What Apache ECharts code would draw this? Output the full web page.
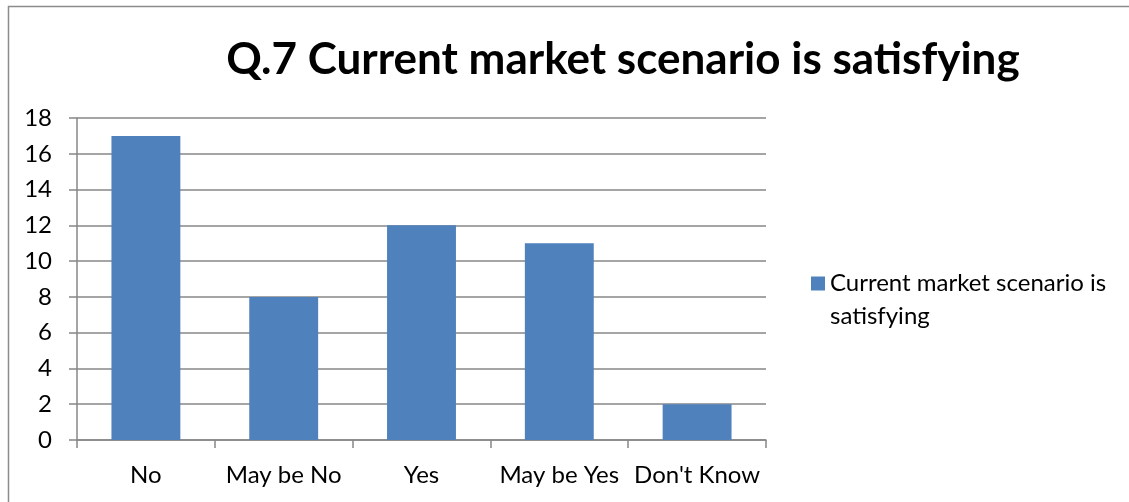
<!DOCTYPE html>
<html>
<head>
<meta charset="utf-8">
<style>
  html, body { margin: 0; padding: 0; background: #fff; }
  #chart { width: 1129px; height: 502px; }
</style>
<script src="https://cdn.jsdelivr.net/npm/echarts@6/dist/echarts.min.js"></script>
</head>
<body>
<div id="chart"></div>
<script>
// Survey answers for question 7
const categories = ['No', 'May be No', 'Yes', 'May be Yes', "Don't Know"];
const responses = [17, 8, 12, 11, 2];
const yTicks = [0, 2, 4, 6, 8, 10, 12, 14, 16, 18];

const seriesName = 'Current market scenario is satisfying';
const titleText = 'Q.7 Current market scenario is satisfying';

const FONT = 'Lato, "Open Sans", sans-serif';
const GRID_COLOR = '#878787';
const LABEL_SIZE = 24;

// Legend marker: a square sitting beside the first text line
// (an empty point below it stretches the box over both lines).
const LEGEND_ICON = 'path://M0,0 L14,0 L14,14 L0,14 Z M0,47 L0.01,47 Z';

const chart = echarts.init(document.getElementById('chart'), null, { renderer: 'canvas' });

chart.setOption({
  animation: false,
  backgroundColor: '#ffffff',
  graphic: [{
    type: 'rect',
    shape: { x: 8.5, y: 6.5, width: 1140, height: 520 },
    style: { fill: 'none', stroke: '#8c8c8c', lineWidth: 1.5 },
    silent: true
  }],
  title: {
    text: titleText,
    left: 618,
    textAlign: 'center',
    top: 33,
    textStyle: { fontFamily: FONT, fontWeight: 'bold', fontSize: 44, color: '#000' }
  },
  legend: {
    left: 806,
    top: 262,
    orient: 'vertical',
    icon: LEGEND_ICON,
    itemWidth: 14,
    itemHeight: 47,
    itemGap: 6,
    textStyle: {
      fontFamily: FONT, fontSize: LABEL_SIZE, color: '#000',
      width: 300, overflow: 'break', lineHeight: 33
    },
    data: [seriesName]
  },
  grid: { left: 77, right: 363, top: 118, bottom: 62, containLabel: false },
  xAxis: {
    type: 'category',
    data: categories,
    axisLine: { lineStyle: { color: GRID_COLOR, width: 1.5 } },
    axisTick: { show: true, length: 8, alignWithLabel: false, lineStyle: { color: GRID_COLOR, width: 1.5 } },
    axisLabel: { interval: 0, fontFamily: FONT, fontSize: LABEL_SIZE, color: '#000', margin: 23 }
  },
  yAxis: {
    type: 'value',
    min: yTicks[0],
    max: yTicks[yTicks.length - 1],
    interval: 2,
    axisLine: { show: true, lineStyle: { color: GRID_COLOR, width: 1.5 } },
    axisTick: { show: true, length: 8, lineStyle: { color: GRID_COLOR, width: 1.5 } },
    splitLine: { show: true, lineStyle: { color: GRID_COLOR, width: 1.5 } },
    axisLabel: { fontFamily: FONT, fontSize: LABEL_SIZE, color: '#000', margin: 25 }
  },
  series: [{
    name: seriesName,
    type: 'bar',
    data: responses,
    barWidth: '50%',
    itemStyle: { color: '#4F81BD' }
  }]
});
</script>
</body>
</html>
